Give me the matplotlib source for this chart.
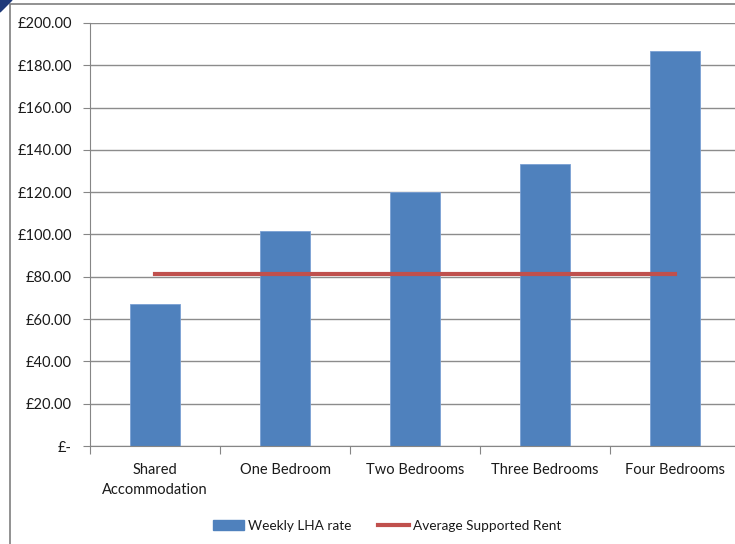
import matplotlib.pyplot as plt
from matplotlib.patches import Rectangle, Polygon
from matplotlib.lines import Line2D
from matplotlib.ticker import FuncFormatter

# DATA
categories = ['Shared\nAccommodation', 'One Bedroom', 'Two Bedrooms', 'Three Bedrooms', 'Four Bedrooms']
lha_rate = [67.1, 101.8, 120.1, 133.3, 186.8]
supported_rent = [81.3, 81.3, 81.3, 81.3, 81.3]
yticks = [0, 20, 40, 60, 80, 100, 120, 140, 160, 180, 200]

plt.rcParams['font.family'] = ['Lato', 'DejaVu Sans']

W, H = 735, 544
fig = plt.figure(figsize=(W / 100, H / 100), dpi=100)

# chart frame + slide corner
fig.patches.append(Rectangle((10 / W, -0.1), 1.2, 1 - 4 / H + 0.1, transform=fig.transFigure,
                             fill=False, edgecolor='#7f7f7f', linewidth=1.2))
fig.patches.append(Polygon([(0, 1), (12 / W, 1), (0, 1 - 12 / H)], closed=True,
                           transform=fig.transFigure, color='#1f3a7a'))

ax = fig.add_axes([90 / W, 1 - 446 / H, 650 / W, 423 / H])
x = range(len(categories))
ax.bar(x, lha_rate, width=0.39, color='#4f81bd', edgecolor='#7aa0d4', linewidth=0.6,
       label='Weekly LHA rate', zorder=2)
ax.plot(x, supported_rent, color='#c0504d', linewidth=3, label='Average Supported Rent', zorder=3)

ax.set_xlim(-0.5, 4.5)
ax.set_ylim(0, 200)
ax.set_yticks(yticks)
ax.yaxis.set_major_formatter(FuncFormatter(lambda v, p: '£-' if v == 0 else f'£{v:.2f}'))
ax.set_xticks([i - 0.5 for i in range(6)], minor=False)
ax.set_xticklabels([])
ax.set_xticks(list(x), minor=True)
ax.set_xticklabels(categories, minor=True, linespacing=1.55)
ax.tick_params(axis='x', which='minor', length=0, pad=12)
ax.tick_params(axis='x', which='major', length=6, color='#868686')
ax.tick_params(axis='y', length=5, color='#868686', pad=8)
for lab in ax.get_xticklabels(minor=True) + ax.get_yticklabels():
    lab.set_fontsize(10.5)
    lab.set_color('#1a1a1a')
ax.grid(axis='y', color='#8c8c8c', linewidth=1, zorder=0)
for s in ['top', 'right']:
    ax.spines[s].set_visible(False)
ax.spines['left'].set_color('#868686')
ax.spines['bottom'].set_color('#868686')

handles = [Rectangle((0, 0), 1, 1, color='#4f81bd'),
           Line2D([], [], color='#c0504d', linewidth=3)]
leg = fig.legend(handles, ['Weekly LHA rate', 'Average Supported Rent'], loc='center',
                 bbox_to_anchor=(387 / W, 1 - 526 / H), ncol=2, frameon=False, fontsize=9.8,
                 handlelength=2.3, handleheight=0.8, handletextpad=0.25, columnspacing=2.0)
for t in leg.get_texts():
    t.set_color('#1a1a1a')

plt.savefig('out.png', dpi=100)
